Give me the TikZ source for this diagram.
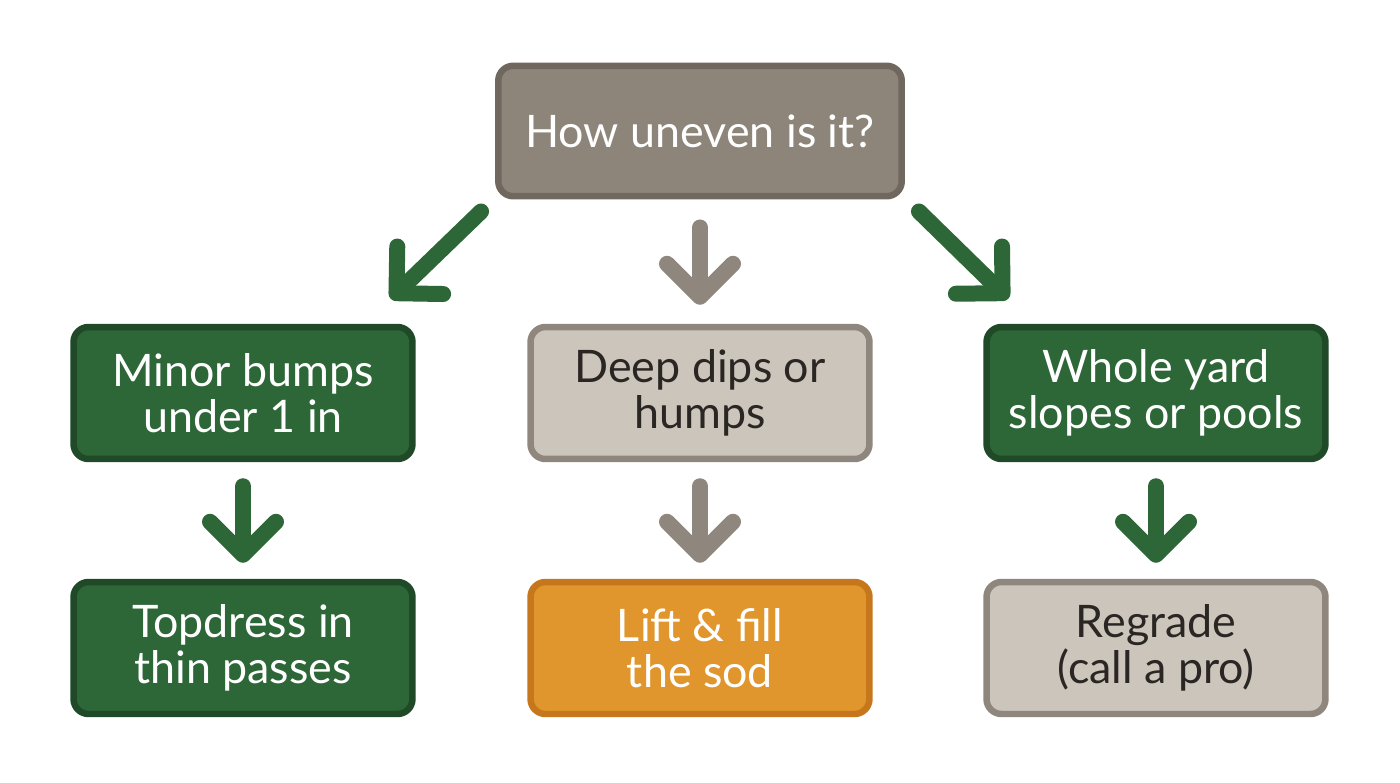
\documentclass[tikz,border=0pt]{standalone}
\usepackage{fontspec}
\setmainfont{Lato}
\usetikzlibrary{arrows.meta}

% colours
\definecolor{leaf}{HTML}{2D6637}
\definecolor{leafdark}{HTML}{1F4927}
\definecolor{stone}{HTML}{8D857A}
\definecolor{stonedark}{HTML}{70685F}
\definecolor{sand}{HTML}{CCC5BB}
\definecolor{sanddark}{HTML}{8F877D}
\definecolor{amber}{HTML}{E0962D}
\definecolor{amberdark}{HTML}{C7771B}
\definecolor{ink}{HTML}{2A2623}

\tikzset{
  box/.style={draw, line width=0.13cm, rounded corners=0.3cm, align=center,
    minimum width=6.78cm, minimum height=2.64cm, inner sep=0pt,
    font=\fontsize{25.5}{26.5}\selectfont},
  qbox/.style={box, fill=stone, draw=stonedark, text=white,
    minimum width=8.07cm, minimum height=2.61cm},
  greenbox/.style={box, fill=leaf, draw=leafdark, text=white},
  sandbox/.style={box, fill=sand, draw=sanddark, text=ink},
  amberbox/.style={box, fill=amber, draw=amberdark, text=white},
  flow/.style={line width=0.32cm, line cap=round,
    -{Straight Barb[length=0.66cm, width=1.32cm, round]}},
  greenflow/.style={flow, draw=leaf},
  stoneflow/.style={flow, draw=sanddark},
}

\begin{document}
\begin{tikzpicture}[x=0.02cm, y=-0.02cm]
\useasboundingbox[fill=white] (0,0) rectangle (1400,782);

% question
\node[qbox] (q) at (700,131) {How uneven is it?};

% cases
\node[greenbox] (minor) at (243,393) {Minor bumps\\under 1 in};
\node[sandbox]  (deep)  at (700,393) {Deep dips or\\humps};
\node[greenbox] (whole) at (1156,393) {Whole yard\\slopes or pools};

% fixes
\node[greenbox] (topd)  at (243,648) {Topdress in\\thin passes};
\node[amberbox] (lift)  at (700,648) {Lift \& fill\\the sod};
\node[sandbox]  (regr)  at (1156,648) {Regrade\\(call a pro)};

% arrows from the question
\draw[greenflow] ([shift={(-14,12)}]q.south west) -- ([shift={(-25,-25)}]minor.north east);
\draw[stoneflow] ([shift={(0,28)}]q.south) -- ([shift={(0,-19)}]deep.north);
\draw[greenflow] ([shift={(14,12)}]q.south east) -- ([shift={(25,-25)}]whole.north west);

% arrows to the fixes
\draw[greenflow] ([shift={(0,24)}]minor.south) -- ([shift={(0,-16)}]topd.north);
\draw[stoneflow] ([shift={(0,24)}]deep.south) -- ([shift={(0,-16)}]lift.north);
\draw[greenflow] ([shift={(0,24)}]whole.south) -- ([shift={(0,-16)}]regr.north);

\end{tikzpicture}
\end{document}
